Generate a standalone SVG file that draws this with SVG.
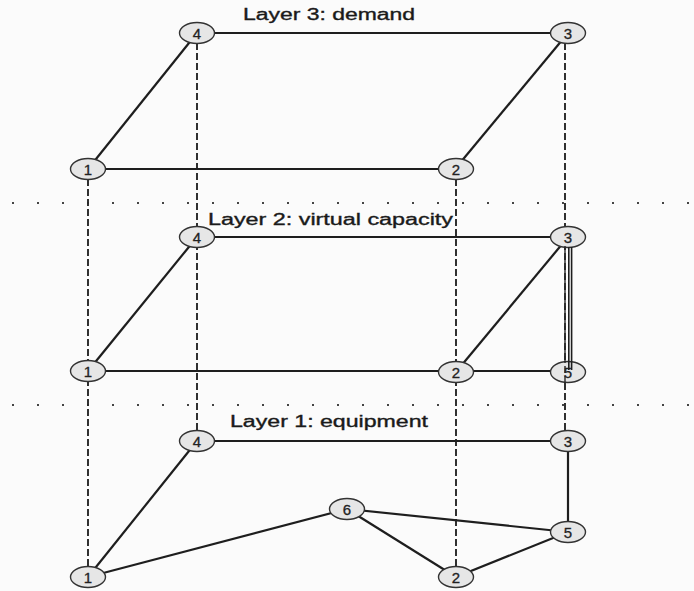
<svg xmlns="http://www.w3.org/2000/svg" width="694" height="591" viewBox="0 0 694 591">
<style>
.e{stroke:#1e1e1e;stroke-width:2.2;fill:none}
.d{stroke:#262626;stroke-width:1.9;stroke-dasharray:7 3;fill:none}
.s{stroke:#444;stroke-width:2.2;stroke-dasharray:2 23;fill:none}
.n ellipse{fill:#e6e6e6;stroke:#333;stroke-width:1.4}
.n text{font-family:"Liberation Sans",Arial,sans-serif;font-size:15px;fill:#222;stroke:#222;stroke-width:0.3;text-anchor:middle}
.t{font-family:"Liberation Sans",Arial,sans-serif;font-size:16px;fill:#1a1a1a;stroke:#1a1a1a;stroke-width:0.35}
</style>
<rect width="694" height="591" fill="#fbfbfb"/>
<g id="separators">
<line class="s" x1="12" y1="203" x2="694" y2="203"/>
<line class="s" x1="12" y1="405" x2="694" y2="405"/>
</g>
<g id="connectors">
<line class="d" x1="88" y1="169" x2="88" y2="577"/>
<line class="d" x1="197" y1="33" x2="197" y2="441"/>
<line class="d" x1="456" y1="169" x2="456" y2="577"/>
<line class="d" x1="565" y1="33" x2="565" y2="441"/>
<line class="e" x1="197" y1="33" x2="568" y2="33"/>
<line class="e" x1="88" y1="169" x2="455" y2="169"/>
<line class="e" x1="88" y1="169" x2="197" y2="33"/>
<line class="e" x1="455" y1="169" x2="568" y2="33"/>
<line class="e" x1="197" y1="237" x2="568" y2="237"/>
<line class="e" x1="88" y1="371" x2="568" y2="371"/>
<line class="e" x1="88" y1="371" x2="197" y2="237"/>
<line class="e" x1="456" y1="372" x2="568" y2="237"/>
<line class="e" x1="197" y1="441" x2="568" y2="441"/>
<line class="e" x1="568" y1="441" x2="568" y2="532"/>
<line class="e" x1="88" y1="577" x2="197" y2="441"/>
<line class="e" x1="88" y1="577" x2="347" y2="509"/>
<line class="e" x1="347" y1="509" x2="568" y2="532"/>
<line class="e" x1="347" y1="509" x2="456" y2="577"/>
<line class="e" x1="456" y1="577" x2="568" y2="532"/>
</g>
<text class="t" x="243" y="20" textLength="172" lengthAdjust="spacingAndGlyphs">Layer 3: demand</text>
<text class="t" x="208" y="225" textLength="245" lengthAdjust="spacingAndGlyphs">Layer 2: virtual capacity</text>
<text class="t" x="230" y="427" textLength="198" lengthAdjust="spacingAndGlyphs">Layer 1: equipment</text>
<g id="L3n4" class="n"><ellipse cx="197" cy="33" rx="17.5" ry="10.5"/><text x="197" y="38.5">4</text></g>
<g id="L3n3" class="n"><ellipse cx="568" cy="33" rx="17.5" ry="10.5"/><text x="568" y="38.5">3</text></g>
<g id="L3n1" class="n"><ellipse cx="88" cy="169" rx="17.5" ry="10.5"/><text x="88" y="174.5">1</text></g>
<g id="L3n2" class="n"><ellipse cx="456" cy="169" rx="17.5" ry="10.5"/><text x="456" y="174.5">2</text></g>
<g id="L2n4" class="n"><ellipse cx="197" cy="237" rx="17.5" ry="10.5"/><text x="197" y="242.5">4</text></g>
<g id="L2n3" class="n"><ellipse cx="568" cy="237" rx="17.5" ry="10.5"/><text x="568" y="242.5">3</text></g>
<g id="L2n1" class="n"><ellipse cx="88" cy="371" rx="17.5" ry="10.5"/><text x="88" y="376.5">1</text></g>
<g id="L2n2" class="n"><ellipse cx="456" cy="372" rx="17.5" ry="10.5"/><text x="456" y="377.5">2</text></g>
<g id="L2n5" class="n"><ellipse cx="568" cy="372" rx="17.5" ry="10.5"/><text x="568" y="377.5">5</text></g>
<g id="L2n3-L2n5" class="e">
<line x1="568.8" y1="247" x2="568.8" y2="370" style="stroke-width:1.6"/>
<line x1="571.6" y1="247" x2="571.6" y2="370" style="stroke-width:1.6"/>
<line class="d" x1="565" y1="246" x2="565" y2="383" style="stroke-width:1.4"/>
</g>
<g id="L1n4" class="n"><ellipse cx="197" cy="441" rx="17.5" ry="10.5"/><text x="197" y="446.5">4</text></g>
<g id="L1n3" class="n"><ellipse cx="568" cy="441" rx="17.5" ry="10.5"/><text x="568" y="446.5">3</text></g>
<g id="L1n6" class="n"><ellipse cx="347" cy="509" rx="17.5" ry="10.5"/><text x="347" y="514.5">6</text></g>
<g id="L1n5" class="n"><ellipse cx="568" cy="532" rx="17.5" ry="10.5"/><text x="568" y="537.5">5</text></g>
<g id="L1n1" class="n"><ellipse cx="88" cy="577" rx="17.5" ry="10.5"/><text x="88" y="582.5">1</text></g>
<g id="L1n2" class="n"><ellipse cx="456" cy="577" rx="17.5" ry="10.5"/><text x="456" y="582.5">2</text></g>
</svg>
